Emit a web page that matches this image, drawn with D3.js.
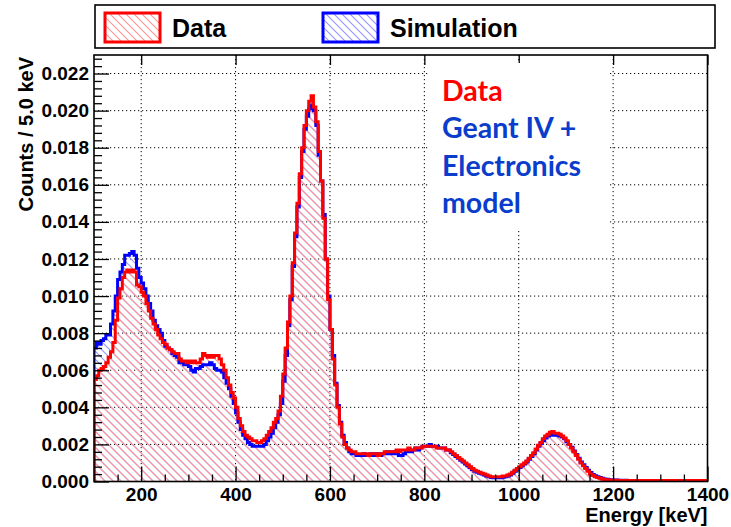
<!DOCTYPE html>
<html><head><meta charset="utf-8">
<script src="https://cdn.jsdelivr.net/npm/d3@7"></script>
<style>body{margin:0;background:#fff}svg{display:block}</style>
</head><body><svg id="c" width="731" height="527"></svg>
<script>
// Histogram binning: 5 keV bins from 100 to 1400 keV
const binEdges = d3.range(100, 1401, 5);

// Data (red) counts per bin
const dataCounts = [
0.0055,0.0057,0.0060,0.0061,0.0062,0.0064,0.0067,0.0070,0.0075,0.0087,0.0099,0.0104,0.0110,0.0113,0.0114,0.0113,0.0114,0.0113,0.0106,0.0105,
0.0102,0.0100,0.0096,0.0092,0.0088,0.0085,0.0082,0.0079,0.0077,0.0075,0.0074,0.0072,0.0071,0.0070,0.0069,0.0069,0.0066,0.0065,0.0065,0.0064,
0.0065,0.0064,0.0065,0.0064,0.0064,0.0066,0.0069,0.0068,0.0067,0.0068,0.0067,0.0068,0.0068,0.0066,0.0063,0.0060,0.0056,0.0052,0.0048,0.0045,
0.0040,0.0034,0.0030,0.0027,0.0025,0.0024,0.0023,0.0022,0.0022,0.0021,0.0021,0.0022,0.0023,0.0025,0.0027,0.0029,0.0032,0.0034,0.0038,0.0046,
0.0058,0.0072,0.0086,0.0100,0.0118,0.0134,0.0150,0.0166,0.0180,0.0192,0.0200,0.0205,0.0208,0.0202,0.0194,0.0178,0.0162,0.0142,0.0120,0.0098,
0.0082,0.0066,0.0052,0.0040,0.0031,0.0024,0.0020,0.0018,0.0017,0.0016,0.0016,0.0015,0.0015,0.0015,0.0015,0.0015,0.0014,0.0015,0.0015,0.0015,
0.0014,0.0015,0.0015,0.0016,0.0016,0.0016,0.0016,0.0016,0.0017,0.0016,0.0017,0.0017,0.0017,0.0018,0.0017,0.0017,0.0018,0.0018,0.0018,0.0019,
0.0019,0.0019,0.0019,0.0019,0.0019,0.0018,0.0018,0.0018,0.0018,0.0017,0.0017,0.0016,0.0015,0.0014,0.0013,0.0012,0.0011,0.0010,0.0009,0.0008,
0.0007,0.0006,0.00055,0.0005,0.00045,0.0004,0.00035,0.0003,0.00025,0.00025,0.00025,0.00025,0.00025,0.0003,0.0003,0.00035,0.0004,0.0005,0.0006,0.0007,
0.0008,0.0009,0.0010,0.0011,0.00125,0.0014,0.00155,0.00175,0.00195,0.0021,0.0023,0.00245,0.00255,0.00265,0.0027,0.0026,0.0026,0.00255,0.00245,0.00235,
0.0022,0.0020,0.0018,0.0016,0.0014,0.0012,0.0010,0.00085,0.0007,0.00055,0.0004,0.00032,0.00026,0.00021,0.00017,0.00014,0.00011,0.00009,0.00008,0.00007,
0.00007,0.00007,0.00006,0.00006,0.00006,0.00006,0.00006,0.00005,0.00005,0.00005,0.00005,0.00005,0.00005,0.00005,0.00005,0.00005,0.00005,0.00005,0.00005,0.00005,
0.00005,0.00005,0.00005,0.00005,0.00005,0.00005,0.00005,0.00005,0.00005,0.00005,0.00005,0.00005,0.00005,0.00005,0.00005,0.00005,0.00005,0.00005,0.00005,0.00005
];

// Simulation (blue) counts per bin
const simCounts = [
0.0072,0.0075,0.0074,0.0076,0.0077,0.0079,0.0079,0.0085,0.0092,0.0100,0.0109,0.0113,0.0117,0.0122,0.0122,0.0123,0.0124,0.0122,0.0115,0.0110,
0.0107,0.0104,0.0100,0.0096,0.0092,0.0087,0.0084,0.0082,0.0080,0.0076,0.0073,0.0072,0.0071,0.0069,0.0068,0.0067,0.0064,0.0064,0.0063,0.0063,
0.0062,0.0060,0.0059,0.0061,0.0061,0.0062,0.0063,0.0063,0.0063,0.0064,0.0063,0.0061,0.0060,0.0060,0.0059,0.0056,0.0053,0.0050,0.0046,0.0042,
0.0037,0.0032,0.0028,0.0025,0.0023,0.0021,0.0020,0.0019,0.0019,0.0019,0.0019,0.0019,0.0020,0.0022,0.0024,0.0026,0.0029,0.0032,0.0036,0.0042,
0.0054,0.0068,0.0084,0.0098,0.0116,0.0132,0.0148,0.0164,0.0178,0.0190,0.0197,0.0201,0.0203,0.0200,0.0192,0.0176,0.0162,0.0144,0.0120,0.0100,
0.0082,0.0068,0.0053,0.0041,0.0032,0.0025,0.0021,0.0018,0.0016,0.0015,0.0015,0.0014,0.0014,0.0014,0.0015,0.0014,0.0014,0.0015,0.0014,0.0015,
0.0015,0.0014,0.0015,0.0015,0.0016,0.0015,0.0016,0.0015,0.0015,0.0014,0.0014,0.0015,0.0016,0.0017,0.0016,0.0017,0.0018,0.0017,0.0018,0.0019,
0.0019,0.0019,0.0020,0.0019,0.0019,0.0019,0.0018,0.0018,0.0018,0.0017,0.0017,0.00155,0.00145,0.00135,0.00125,0.00115,0.00105,0.00095,0.00085,0.00075,
0.00065,0.00055,0.0005,0.00045,0.0004,0.00035,0.0003,0.00025,0.00022,0.0002,0.0002,0.0002,0.0002,0.00023,0.00026,0.0003,0.00035,0.00045,0.00055,0.00065,
0.00075,0.00085,0.00095,0.00105,0.0012,0.00135,0.0015,0.0017,0.0019,0.00205,0.0022,0.00235,0.00245,0.0025,0.00255,0.0025,0.0025,0.00245,0.0024,0.0023,
0.00215,0.0020,0.00185,0.00165,0.00145,0.00125,0.00105,0.0009,0.00075,0.0006,0.00048,0.00038,0.00031,0.00025,0.00021,0.00017,0.00014,0.00012,0.0001,0.00009,
0.00008,0.00008,0.00007,0.00007,0.00007,0.00007,0.00006,0.00006,0.00006,0.00006,0.00006,0.00006,0.00006,0.00005,0.00005,0.00005,0.00005,0.00005,0.00005,0.00005,
0.00005,0.00005,0.00005,0.00005,0.00005,0.00005,0.00005,0.00005,0.00005,0.00005,0.00005,0.00005,0.00005,0.00005,0.00005,0.00005,0.00005,0.00005,0.00005,0.00005
];

const xMajorTicks = [200, 400, 600, 800, 1000, 1200, 1400];
const xMinorTicks = d3.range(150, 1400, 50).filter(v => v % 200 !== 0);
const yMajorTicks = [0, 0.002, 0.004, 0.006, 0.008, 0.010, 0.012, 0.014, 0.016, 0.018, 0.020, 0.022];
const yMinorTicks = d3.range(0.0004, 0.0229, 0.0004).filter(v => Math.abs(v / 0.002 - Math.round(v / 0.002)) > 0.01);
const xGridTicks = [200, 400, 600, 800, 1000, 1200];
const yGridTicks = [0.002, 0.004, 0.006, 0.008, 0.010, 0.012, 0.014, 0.016, 0.018, 0.020, 0.022];
const legendLabels = ["Data", "Simulation"];
const noteLines = [
  {text: "Data", color: "#ff0000"},
  {text: "Geant IV +", color: "#0a3dcc"},
  {text: "Electronics", color: "#0a3dcc"},
  {text: "model", color: "#0a3dcc"}
];

const svg = d3.select("#c");
const L = 94, R = 707.5, T = 55, B = 481.5;
const x = d3.scaleLinear().domain([100, 1400]).range([L, R]);
const y = d3.scaleLinear().domain([0, 0.023]).range([B, T]);
const FONT = "'Liberation Sans', Arial, Helvetica, sans-serif";

// patterns
const defs = svg.append("defs");
function hatch(id, color) {
  const p = defs.append("pattern").attr("id", id).attr("patternUnits", "userSpaceOnUse")
    .attr("width", 8).attr("height", 8);
  p.append("path").attr("d", "M-1,-1 L9,9 M-1,7 L1,9 M7,-1 L9,1")
    .attr("stroke", color).attr("stroke-width", 1.1).attr("fill", "none");
}
hatch("hRed", "#ff9494");
hatch("hBlue", "#9494ff");
defs.append("clipPath").attr("id", "plotClip").append("rect")
  .attr("x", L).attr("y", T).attr("width", R - L).attr("height", B - T);

// grid
const grid = svg.append("g").attr("stroke", "#000").attr("stroke-width", 1)
  .attr("stroke-dasharray", "1.2,2.8");
grid.selectAll(".gx").data(xGridTicks).join("line")
  .attr("x1", d => x(d)).attr("x2", d => x(d)).attr("y1", T).attr("y2", B);
grid.selectAll(".gy").data(yGridTicks).join("line")
  .attr("x1", L).attr("x2", R).attr("y1", d => y(d)).attr("y2", d => y(d));

// histogram step points
function stepPoints(counts) {
  const pts = [[binEdges[0], 0]];
  counts.forEach((v, i) => { pts.push([binEdges[i], v]); pts.push([binEdges[i + 1], v]); });
  pts.push([binEdges[binEdges.length - 1], 0]);
  return pts;
}
const area = d3.area().x(d => x(d[0])).y0(y(0)).y1(d => y(d[1]));
const line = d3.line().x(d => x(d[0])).y(d => y(d[1]));
const hg = svg.append("g").attr("clip-path", "url(#plotClip)");
const simPts = stepPoints(simCounts), dataPts = stepPoints(dataCounts);
hg.append("path").attr("d", area(simPts)).attr("fill", "url(#hBlue)");
hg.append("path").attr("d", area(dataPts)).attr("fill", "url(#hRed)");
hg.append("path").attr("d", line(simPts)).attr("fill", "none").attr("stroke", "#0000ff")
  .attr("stroke-width", 3).attr("stroke-linejoin", "miter");
hg.append("path").attr("d", line(dataPts)).attr("fill", "none").attr("stroke", "#ff0000")
  .attr("stroke-width", 3).attr("stroke-linejoin", "miter");

// axes
function styleAxis(g) {
  g.select(".domain").remove();
  g.selectAll(".tick line").attr("stroke", "#000").attr("stroke-width", 1.3);
  g.selectAll("text").attr("font-family", FONT).attr("font-weight", "bold")
    .attr("font-size", 19).attr("fill", "#000");
}
svg.append("g").attr("transform", `translate(0,${B})`)
  .call(d3.axisBottom(x).tickValues(xMajorTicks).tickSize(-15).tickPadding(6).tickFormat(d3.format("d")))
  .call(styleAxis);
svg.append("g").attr("transform", `translate(0,${B})`)
  .call(d3.axisBottom(x).tickValues(xMinorTicks).tickSize(-7).tickFormat(""))
  .call(styleAxis);
svg.append("g").attr("transform", `translate(0,${T})`)
  .call(d3.axisTop(x).tickValues(xMajorTicks).tickSize(-10).tickFormat(""))
  .call(styleAxis);
svg.append("g").attr("transform", `translate(${L},0)`)
  .call(d3.axisLeft(y).tickValues(yMajorTicks).tickSize(-15).tickPadding(5).tickFormat(d3.format(".3f")))
  .call(styleAxis);
svg.append("g").attr("transform", `translate(${L},0)`)
  .call(d3.axisLeft(y).tickValues(yMinorTicks).tickSize(-8).tickFormat(""))
  .call(styleAxis);

// frame
svg.append("rect").attr("x", L).attr("y", T).attr("width", R - L).attr("height", B - T)
  .attr("fill", "none").attr("stroke", "#000").attr("stroke-width", 1.6);

// axis titles
svg.append("text").attr("x", R).attr("y", 522).attr("text-anchor", "end")
  .attr("font-family", FONT).attr("font-weight", "bold").attr("font-size", 20).text("Energy [keV]");
svg.append("text").attr("transform", "translate(33,57) rotate(-90)").attr("text-anchor", "end")
  .attr("font-family", FONT).attr("font-weight", "bold").attr("font-size", 20).text("Counts / 5.0 keV");

// annotation box
svg.append("rect").attr("x", 430).attr("y", 63).attr("width", 178).attr("height", 168).attr("fill", "#fff");
svg.append("g").selectAll("text").data(noteLines).join("text")
  .attr("x", 442).attr("y", (d, i) => 101 + i * 37.3)
  .attr("font-family", "Lato, 'Open Sans', sans-serif").attr("font-weight", "bold")
  .attr("font-size", 28.5).attr("fill", d => d.color).text(d => d.text);

// legend
const lg = svg.append("g");
lg.append("rect").attr("x", 95).attr("y", 5).attr("width", 620).attr("height", 43)
  .attr("fill", "#fff").attr("stroke", "#000").attr("stroke-width", 1.6);
const legendItems = [
  {label: legendLabels[0], color: "#ff0000", fill: "url(#hRed)", x: 105},
  {label: legendLabels[1], color: "#0000ff", fill: "url(#hBlue)", x: 323}
];
legendItems.forEach(it => {
  lg.append("rect").attr("x", it.x).attr("y", 13).attr("width", 55).attr("height", 29)
    .attr("fill", it.fill).attr("stroke", it.color).attr("stroke-width", 3);
  lg.append("text").attr("x", it.x + 67).attr("y", 37).attr("font-family", FONT)
    .attr("font-weight", "bold").attr("font-size", 25).attr("fill", "#000").text(it.label);
});
</script>
</body></html>
